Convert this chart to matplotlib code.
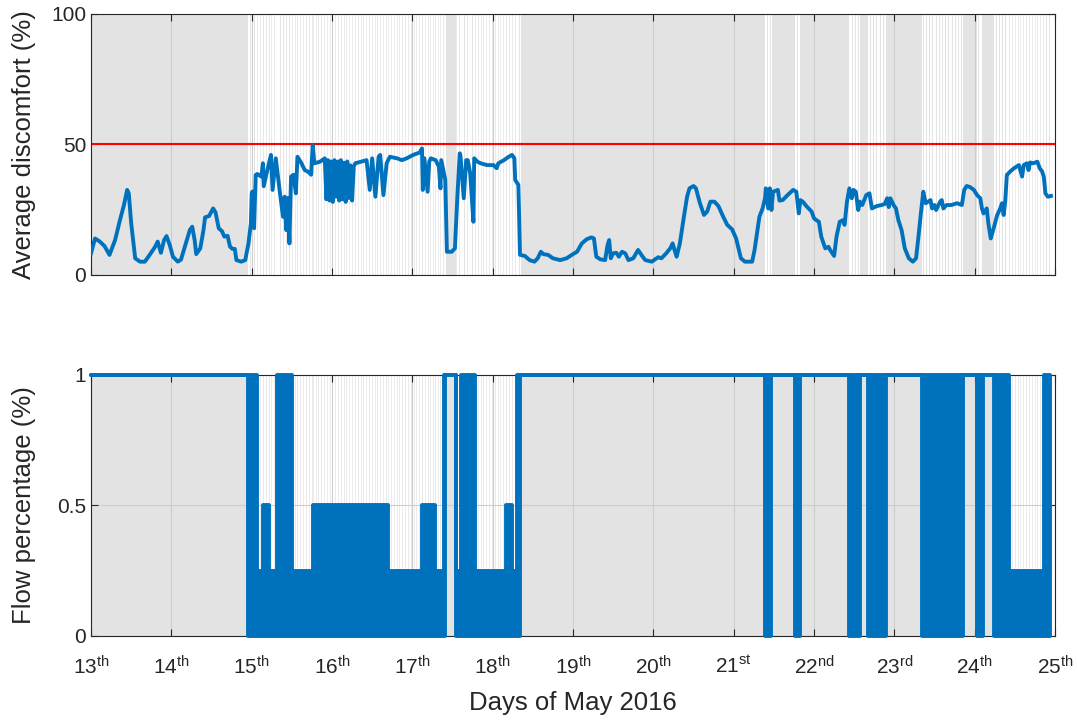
import matplotlib.pyplot as plt
import numpy as np

plt.rcParams['font.family'] = ['Liberation Sans', 'DejaVu Sans']

# Average discomfort (%) over the days of May 2016
disc_day = [
    13.00, 13.05, 13.11, 13.17, 13.23, 13.30, 13.36, 13.41, 13.45, 13.47,
    13.50, 13.55, 13.61, 13.67, 13.73, 13.80, 13.83, 13.87, 13.91, 13.94,
    13.98, 14.02, 14.08, 14.12, 14.18, 14.23, 14.26, 14.29, 14.31, 14.36,
    14.40, 14.42, 14.47, 14.52, 14.55, 14.59, 14.63, 14.66, 14.70, 14.73,
    14.76, 14.79, 14.81, 14.87, 14.92, 14.96, 14.99, 15.00, 15.01, 15.03,
    15.05, 15.07, 15.12, 15.14, 15.15, 15.20, 15.24, 15.26, 15.30, 15.35,
    15.39, 15.41, 15.43, 15.45, 15.47, 15.49, 15.52, 15.55, 15.57, 15.62,
    15.66, 15.70, 15.74, 15.76, 15.78, 15.85, 15.91, 15.93, 15.95, 15.97,
    15.99, 16.01, 16.03, 16.05, 16.07, 16.09, 16.11, 16.13, 16.15, 16.17,
    16.19, 16.21, 16.23, 16.25, 16.27, 16.29, 16.36, 16.43, 16.47, 16.50,
    16.54, 16.58, 16.60, 16.64, 16.68, 16.72, 16.81, 16.87, 16.93, 17.01,
    17.09, 17.12, 17.13, 17.15, 17.19, 17.21, 17.23, 17.29, 17.33, 17.35,
    17.36, 17.41, 17.43, 17.49, 17.53, 17.56, 17.59, 17.60, 17.64, 17.67,
    17.69, 17.72, 17.76, 17.77, 17.81, 17.85, 17.93, 18.01, 18.05, 18.07,
    18.14, 18.20, 18.24, 18.27, 18.28, 18.32, 18.34, 18.40, 18.46, 18.52,
    18.56, 18.60, 18.63, 18.69, 18.75, 18.84, 18.92, 19.00, 19.05, 19.11,
    19.17, 19.23, 19.26, 19.29, 19.34, 19.40, 19.43, 19.45, 19.47, 19.50,
    19.54, 19.57, 19.61, 19.65, 19.69, 19.75, 19.81, 19.86, 19.90, 19.98,
    20.04, 20.06, 20.10, 20.16, 20.21, 20.24, 20.27, 20.29, 20.33, 20.38,
    20.42, 20.45, 20.50, 20.53, 20.58, 20.63, 20.67, 20.71, 20.76, 20.81,
    20.87, 20.92, 20.98, 21.03, 21.06, 21.09, 21.14, 21.23, 21.26, 21.32,
    21.36, 21.39, 21.40, 21.43, 21.45, 21.47, 21.49, 21.55, 21.57, 21.61,
    21.67, 21.74, 21.78, 21.81, 21.83, 21.86, 21.91, 21.97, 22.00, 22.03,
    22.06, 22.09, 22.14, 22.18, 22.20, 22.25, 22.28, 22.32, 22.36, 22.38,
    22.41, 22.44, 22.47, 22.49, 22.52, 22.55, 22.57, 22.60, 22.65, 22.69,
    22.72, 22.78, 22.84, 22.88, 22.91, 22.93, 22.95, 22.99, 23.02, 23.05,
    23.09, 23.13, 23.18, 23.23, 23.27, 23.30, 23.33, 23.36, 23.39, 23.42,
    23.45, 23.47, 23.50, 23.52, 23.57, 23.59, 23.61, 23.65, 23.71, 23.78,
    23.84, 23.87, 23.90, 23.94, 23.99, 24.03, 24.07, 24.09, 24.11, 24.15,
    24.17, 24.20, 24.23, 24.28, 24.31, 24.34, 24.36, 24.38, 24.40, 24.44,
    24.49, 24.55, 24.59, 24.61, 24.65, 24.67, 24.69, 24.73, 24.78, 24.81,
    24.84, 24.86, 24.88, 24.91, 24.95,
]
disc_val = [
    8.3, 14.0, 12.8, 11.0, 7.7, 13.4, 21.0, 26.8, 32.6, 31.3,
    19.9, 6.4, 5.1, 5.1, 7.7, 10.9, 12.8, 8.5, 13.4, 14.9,
    11.5, 7.0, 5.1, 5.9, 12.1, 17.2, 18.5, 13.4, 8.0, 10.2,
    17.2, 22.1, 22.6, 25.5, 24.0, 17.9, 16.8, 14.7, 15.0, 10.9,
    10.0, 10.0, 5.7, 5.1, 5.7, 12.1, 19.8, 31.3, 32.0, 17.9,
    38.3, 38.7, 37.7, 42.8, 34.0, 40.9, 46.0, 32.6, 44.7, 31.9,
    22.3, 30.0, 17.2, 29.5, 12.1, 37.7, 38.4, 31.3, 45.3, 42.8,
    40.2, 39.6, 38.4, 49.8, 42.8, 43.4, 44.7, 29.0, 44.0, 28.5,
    43.5, 28.0, 44.0, 30.0, 43.5, 28.5, 44.0, 29.0, 43.0, 28.0,
    43.5, 29.5, 42.0, 28.5, 41.5, 42.8, 43.4, 44.0, 32.6, 44.7,
    30.0, 45.3, 46.0, 30.6, 42.8, 45.3, 44.7, 44.0, 44.7, 46.0,
    46.9, 48.5, 32.6, 44.7, 31.9, 43.4, 44.7, 44.0, 41.5, 33.2,
    44.0, 36.4, 8.9, 8.9, 10.2, 30.0, 46.6, 45.3, 29.4, 44.0,
    44.0, 39.0, 20.4, 44.7, 43.4, 42.8, 42.1, 42.1, 40.9, 42.8,
    44.0, 45.3, 46.0, 44.7, 36.4, 34.5, 7.7, 7.3, 5.7, 5.1,
    6.4, 8.9, 8.0, 7.7, 6.4, 5.7, 6.4, 8.0, 8.9, 12.1,
    13.7, 14.4, 14.0, 7.0, 6.0, 5.7, 11.5, 13.4, 6.4, 8.3,
    8.5, 7.0, 8.9, 8.3, 5.7, 6.4, 9.6, 7.3, 5.7, 5.1,
    6.4, 6.8, 6.4, 8.3, 10.2, 12.1, 8.9, 7.0, 12.1, 22.3,
    30.0, 33.2, 34.1, 33.2, 27.5, 23.0, 24.3, 28.1, 28.1, 26.4,
    22.3, 19.2, 17.5, 14.0, 10.2, 6.4, 5.1, 5.1, 9.6, 22.3,
    25.5, 29.4, 33.2, 25.5, 33.2, 24.9, 31.9, 32.6, 28.5, 28.7,
    30.6, 32.6, 31.9, 23.6, 28.7, 28.1, 26.2, 24.3, 21.7, 21.0,
    20.4, 14.7, 10.2, 10.8, 9.6, 7.3, 14.7, 20.4, 21.0, 19.2,
    28.1, 33.2, 29.4, 32.6, 31.9, 24.9, 28.1, 26.8, 30.6, 31.3,
    25.5, 26.4, 26.8, 27.2, 29.4, 26.0, 29.4, 26.8, 25.5, 21.0,
    17.2, 10.2, 6.4, 5.1, 6.4, 14.7, 23.6, 31.9, 27.5, 28.1,
    28.7, 25.5, 26.8, 24.9, 28.1, 28.7, 25.5, 26.8, 26.8, 27.5,
    26.8, 32.6, 34.1, 33.7, 32.6, 30.6, 29.4, 25.5, 23.6, 25.5,
    19.8, 14.0, 17.2, 23.0, 24.9, 27.5, 23.0, 28.1, 38.3, 39.6,
    40.9, 42.1, 37.7, 42.1, 42.8, 40.2, 43.1, 42.8, 43.4, 40.9,
    39.6, 37.7, 31.3, 30.0, 30.3,
]
comfort_limit = 50

# Flow percentage as runs: a run with low == high is a steady level, otherwise
# the flow kept switching between low and high over the whole run
flow_start = [13.00, 14.95, 15.07, 15.14, 15.21, 15.31, 15.50, 15.76, 16.70, 17.12,
              17.28, 17.39, 17.41, 17.54, 17.60, 17.68, 17.70, 17.78, 18.17, 18.24,
              18.30, 18.34, 21.39, 21.47, 21.76, 21.83, 22.43, 22.57, 22.67, 22.90,
              23.35, 23.85, 24.03, 24.10, 24.24, 24.43, 24.86]
flow_end = [14.95, 15.07, 15.14, 15.21, 15.31, 15.50, 15.76, 16.70, 17.12, 17.28,
            17.39, 17.41, 17.54, 17.60, 17.68, 17.70, 17.78, 18.17, 18.24, 18.30,
            18.34, 21.39, 21.47, 21.76, 21.83, 22.43, 22.57, 22.67, 22.90, 23.35,
            23.85, 24.03, 24.10, 24.24, 24.43, 24.86, 24.94]
flow_low = [1, 0, 0, 0, 0, 0, 0, 0, 0, 0,
            0, 0, 1, 0, 0, 0, 0, 0, 0, 0,
            0, 1, 0, 1, 0, 1, 0, 1, 0, 1,
            0, 1, 0, 1, 0, 0, 0]
flow_high = [1, 1, 0.25, 0.5, 0.25, 1, 0.25, 0.5, 0.25, 0.5,
             0.25, 1, 1, 0.25, 1, 0.25, 1, 0.25, 0.5, 0.25,
             1, 1, 1, 1, 1, 1, 1, 1, 1, 1,
             1, 1, 1, 1, 1, 0.25, 1]

day_ticks = list(range(13, 26))
day_suffix = ['th'] * 8 + ['st', 'nd', 'rd', 'th', 'th']

blue = '#0072bd'
ink = '#262626'
shade = '#e3e3e3'


def shade_background(ax):
    # grey while flow sits at 100 %, striped while it is switching
    for s, e, lo, hi in zip(flow_start, flow_end, flow_low, flow_high):
        if lo == hi == 1:
            ax.axvspan(s, e, color=shade, lw=0, zorder=0.1)
        elif hi == 1:
            ax.axvspan(s, e, color=shade, lw=0, zorder=0.1)
            ax.vlines(np.arange(s, e, 0.018), 0, 1, transform=ax.get_xaxis_transform(),
                      color='white', lw=0.7, zorder=0.2)
        else:
            ax.vlines(np.arange(s, e, 0.035), 0, 1, transform=ax.get_xaxis_transform(),
                      color='#e8e8e8', lw=0.6, zorder=0.2)


def style_axes(ax):
    ax.set_xlim(13, 25)
    ax.set_xticks(day_ticks)
    ax.set_axisbelow(True)
    ax.grid(True, color='#cdcdcd', lw=0.8)
    ax.tick_params(direction='in', length=5, width=0.8, top=True, right=True,
                   colors=ink, labelsize=15)
    for sp in ax.spines.values():
        sp.set_color(ink)
        sp.set_linewidth(0.8)


fig = plt.figure(figsize=(10.77, 7.21), dpi=100)
ax1 = fig.add_axes([0.0845, 0.6186, 0.8951, 0.3620])
ax2 = fig.add_axes([0.0845, 0.1179, 0.8951, 0.3620])

# top: discomfort
shade_background(ax1)
ax1.axhline(comfort_limit, color='#ff0000', lw=1.5, zorder=2)
ax1.plot(disc_day, disc_val, color=blue, lw=2.8, zorder=3, solid_joinstyle='round')
ax1.set_ylim(0, 100)
ax1.set_yticks([0, 50, 100])
style_axes(ax1)
ax1.tick_params(labelbottom=False)
ax1.set_ylabel('Average discomfort (%)', fontsize=18.5, color=ink)

# bottom: flow
shade_background(ax2)
fx, fhi, flo = [], [], []
for s, e, lo, hi in zip(flow_start, flow_end, flow_low, flow_high):
    fx += [s, e]
    fhi += [hi, hi]
    flo += [lo, lo]
ax2.fill_between(fx, flo, fhi, facecolor=blue, edgecolor=blue, lw=2.8,
                 joinstyle='round', zorder=3, clip_on=False)
ax2.set_ylim(0, 1)
ax2.set_yticks([0, 0.5, 1])
ax2.set_yticklabels(['0', '0.5', '1'])
style_axes(ax2)
ax2.set_xticklabels([r'$\mathregular{%d^{%s}}$' % (d, s) for d, s in zip(day_ticks, day_suffix)])
ax2.tick_params(axis='x', pad=14)
ax2.set_ylabel('Flow percentage (%)', fontsize=18.5, color=ink)
ax2.set_xlabel('Days of May 2016', fontsize=18.5, color=ink, labelpad=9)

ax1.yaxis.set_label_coords(-0.057, 0.5)
ax2.yaxis.set_label_coords(-0.057, 0.5)

fig.savefig('out.png', dpi=100)
